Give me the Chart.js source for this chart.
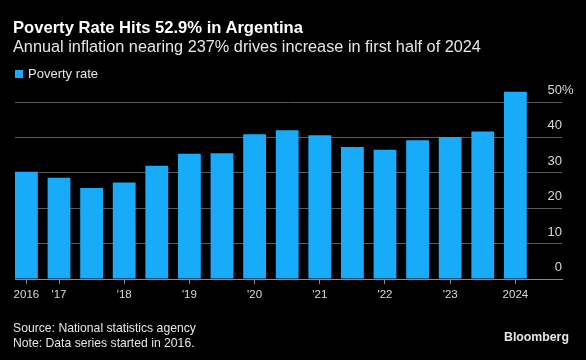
<!DOCTYPE html>
<html>
<head>
<meta charset="utf-8">
<script src="https://cdn.jsdelivr.net/npm/chart.js@4"></script>
<style>
  html, body { margin: 0; padding: 0; background: #000; }
  #wrap { position: relative; width: 586px; height: 360px; overflow: hidden; background: #000; font-family: "Liberation Sans", Arial, sans-serif; color: #fff; }
  canvas { position: absolute; left: 0; top: 0; }
  .t { position: absolute; white-space: nowrap; }
  #title { left: 13px; top: 18px; font-size: 16.6px; font-weight: bold; color: #fff; }
  #subtitle { left: 13px; top: 37px; font-size: 16.3px; color: #e6e6e6; }
  #legend { left: 15px; top: 66px; font-size: 13px; color: #e6e6e6; }
  #legend span.box { display: inline-block; width: 8px; height: 8px; background: #17ABFA; margin-right: 5px; vertical-align: 0px; }
  #source { left: 13px; top: 321px; font-size: 12.2px; color: #e6e6e6; line-height: 15px; }
  #brand { left: 504px; top: 330px; font-size: 12.3px; font-weight: bold; color: #e6e6e6; }
</style>
</head>
<body>
<div id="wrap">
  <canvas id="c" width="586" height="360"></canvas>
  <div class="t" id="title">Poverty Rate Hits 52.9% in Argentina</div>
  <div class="t" id="subtitle">Annual inflation nearing 237% drives increase in first half of 2024</div>
  <div class="t" id="legend"><span class="box"></span>Poverty rate</div>
  <div class="t" id="source">Source: National statistics agency<br>Note: Data series started in 2016.</div>
  <div class="t" id="brand">Bloomberg</div>
</div>
<script>
// Half-year periods, 2016 H2 through 2024 H1
const periods = ['2016 H2','2017 H1','2017 H2','2018 H1','2018 H2','2019 H1','2019 H2','2020 H1','2020 H2','2021 H1','2021 H2','2022 H1','2022 H2','2023 H1','2023 H2','2024 H1'];
const povertyRate = [30.3, 28.6, 25.7, 27.3, 32.0, 35.4, 35.5, 40.9, 42.0, 40.6, 37.3, 36.5, 39.2, 40.1, 41.7, 52.9];
const xTickIndex = [0, 1, 3, 5, 7, 9, 11, 13, 15];
const xTickLabels = ['2016', "'17", "'18", "'19", "'20", "'21", "'22", "'23", '2024'];
const yTickValues = [0, 10, 20, 30, 40, 50];
const yTickLabels = ['0', '10', '20', '30', '40', '50'];

const BLUE = '#17ABFA';
const GRID = '#5a5a5a';
const AXIS = '#8a8a8a';
const TXT = '#d9d9d9';
const FONT = '"Liberation Sans", Arial, sans-serif';

const yLabelsPlugin = {
  id: 'yLabels',
  afterDraw(chart) {
    const ctx = chart.ctx;
    const y = chart.scales.y;
    const right = chart.chartArea.right;
    ctx.save();
    ctx.font = '13px ' + FONT;
    ctx.fillStyle = TXT;
    ctx.textAlign = 'right';
    ctx.textBaseline = 'alphabetic';
    yTickValues.forEach((v, i) => {
      const py = y.getPixelForValue(v);
      ctx.fillText(yTickLabels[i], right, py - 8);
      if (i === yTickValues.length - 1) {
        ctx.textAlign = 'left';
        ctx.fillText('%', right, py - 8);
        ctx.textAlign = 'right';
      }
    });
    ctx.restore();
  }
};

new Chart(document.getElementById('c'), {
  type: 'bar',
  data: {
    datasets: [{
      label: 'Poverty rate',
      data: povertyRate.map((v, i) => ({ x: i, y: v })),
      backgroundColor: BLUE,
      borderWidth: 0,
      barPercentage: 0.7,
      categoryPercentage: 1.0
    }]
  },
  options: {
    responsive: false,
    animation: false,
    layout: { padding: { left: 15, right: 0, top: 90, bottom: 0 } },
    plugins: { legend: { display: false }, title: { display: false }, tooltip: { enabled: false } },
    scales: {
      x: {
        type: 'linear',
        offset: false,
        min: -0.35,
        max: 16.43,
        afterBuildTicks: (s) => { s.ticks = xTickIndex.map(v => ({ value: v })); },
        afterFit: (s) => { s.height = 81; },
        ticks: {
          autoSkip: false,
          maxRotation: 0,
          color: TXT,
          font: { family: FONT, size: 11.5 },
          padding: 4,
          callback: (value, index) => xTickLabels[index]
        },
        grid: { offset: false, drawOnChartArea: false, drawTicks: true, tickLength: 5, color: AXIS },
        border: { display: true, color: AXIS, width: 1 }
      },
      y: {
        position: 'right',
        min: 0,
        max: 53.4,
        afterBuildTicks: (s) => { s.ticks = yTickValues.map(v => ({ value: v })); },
        afterFit: (s) => { s.width = 24; },
        ticks: { display: false },
        grid: { color: GRID, lineWidth: 1, drawTicks: false },
        border: { display: false }
      }
    }
  },
  plugins: [yLabelsPlugin]
});
</script>
</body>
</html>
